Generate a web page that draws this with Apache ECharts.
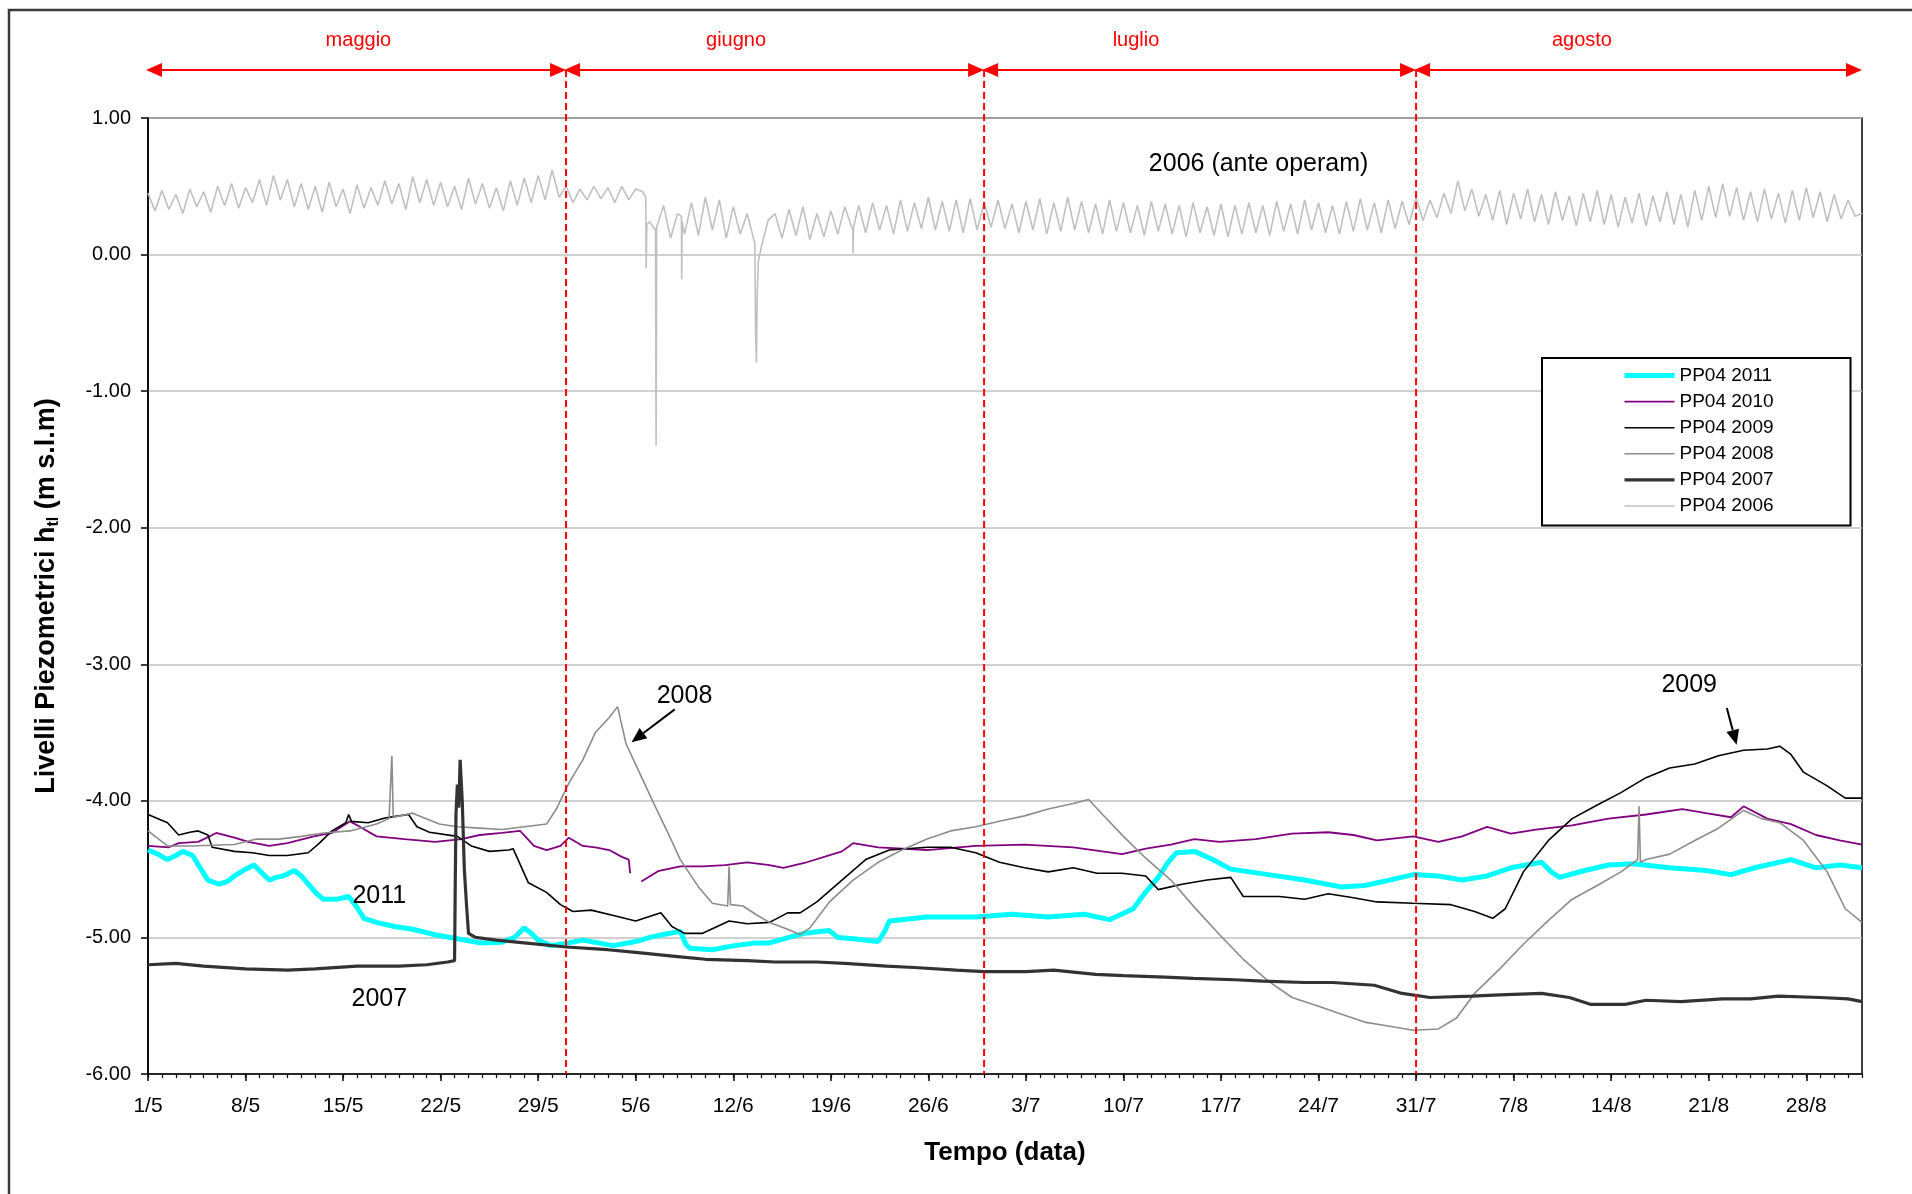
<!DOCTYPE html>
<html>
<head>
<meta charset="utf-8">
<script src="https://cdn.jsdelivr.net/npm/echarts@6/dist/echarts.min.js"></script>
<style>html,body{margin:0;padding:0;background:#fff;}#c{width:1912px;height:1194px;}</style>
</head>
<body>
<div id="c"></div>
<script>
// ---------- DATA ----------
const xTickLabels = ['1/5','8/5','15/5','22/5','29/5','5/6','12/6','19/6','26/6','3/7','10/7','17/7','24/7','31/7','7/8','14/8','21/8','28/8'];
const monthNames = ['maggio','giugno','luglio','agosto'];
const monthBounds = [0, 30, 60, 91, 123]; // day index (0 = 1/5)
const monthLabelDays = [15.1, 42.2, 70.9, 102.9];
const seriesNames = ['PP04 2011','PP04 2010','PP04 2009','PP04 2008','PP04 2007','PP04 2006'];

const s2011 = [[0,-4.36],[0.7,-4.39],[1.4,-4.43],[2.0,-4.40],[2.5,-4.37],[3.2,-4.40],[3.8,-4.50],[4.3,-4.58],[5.1,-4.61],[5.7,-4.59],[6.2,-4.55],[7.0,-4.50],[7.6,-4.47],[8.1,-4.52],[8.7,-4.58],[9.2,-4.56],[9.7,-4.55],[10.5,-4.51],[11.0,-4.55],[11.6,-4.62],[12.1,-4.68],[12.6,-4.72],[13.6,-4.72],[14.4,-4.70],[15.0,-4.78],[15.5,-4.86],[16.4,-4.89],[17.7,-4.92],[19,-4.94],[20.6,-4.98],[22.2,-5.01],[23.8,-5.04],[25.4,-5.035],[26.3,-5.00],[27.0,-4.93],[27.5,-4.97],[28.0,-5.02],[28.9,-5.06],[30.2,-5.04],[31.2,-5.02],[32.3,-5.04],[33.4,-5.06],[35.0,-5.03],[36.0,-5.00],[36.9,-4.98],[38.2,-4.955],[38.6,-5.05],[38.9,-5.08],[40.5,-5.09],[42.1,-5.06],[43.6,-5.04],[44.6,-5.04],[46.0,-5.00],[47.1,-4.97],[48.9,-4.95],[49.5,-5.00],[50.6,-5.01],[52.4,-5.03],[52.9,-4.95],[53.2,-4.88],[55.9,-4.85],[59.4,-4.85],[62,-4.83],[64.6,-4.85],[67.2,-4.83],[69,-4.87],[70.7,-4.79],[71.5,-4.68],[72.5,-4.56],[73.2,-4.45],[73.8,-4.38],[75.1,-4.37],[76.4,-4.43],[77.7,-4.50],[80.4,-4.54],[83,-4.58],[85.6,-4.63],[87.3,-4.62],[89.1,-4.58],[90.8,-4.54],[92.6,-4.55],[94.3,-4.58],[96.1,-4.55],[97.8,-4.49],[100,-4.45],[100.7,-4.52],[101.3,-4.56],[103.1,-4.51],[104.8,-4.47],[106.6,-4.46],[109.2,-4.49],[111.8,-4.51],[113.6,-4.54],[115.3,-4.49],[117.9,-4.43],[119.7,-4.49],[121.4,-4.47],[123,-4.49]];

const s2010 = [[0,-4.33],[1.5,-4.34],[2.2,-4.31],[3.6,-4.30],[4.9,-4.235],[6.2,-4.27],[7.2,-4.30],[8.7,-4.33],[10,-4.31],[11.9,-4.26],[13.2,-4.235],[14.5,-4.15],[15.2,-4.19],[16.4,-4.26],[18.4,-4.28],[20.6,-4.30],[22.5,-4.28],[23.8,-4.25],[25.4,-4.235],[26.7,-4.22],[27.7,-4.33],[28.6,-4.36],[29.6,-4.33],[30.2,-4.27],[31.2,-4.33],[32.1,-4.34],[33.1,-4.36],[34.0,-4.41],[34.5,-4.43],[34.6,-4.53],[35.0,'-'],[35.4,-4.59],[36.6,-4.515],[38.2,-4.48],[39.8,-4.48],[41.4,-4.47],[43.0,-4.45],[44.6,-4.47],[45.6,-4.49],[47.1,-4.455],[49.8,-4.37],[50.6,-4.31],[52.4,-4.34],[55.9,-4.36],[59.4,-4.33],[62.9,-4.32],[66.4,-4.34],[69.9,-4.39],[71.6,-4.35],[73.4,-4.32],[75.1,-4.28],[76.9,-4.30],[79.5,-4.28],[82.1,-4.24],[84.7,-4.23],[86.5,-4.25],[88.2,-4.29],[90.8,-4.26],[92.6,-4.30],[94.3,-4.26],[96.1,-4.19],[97.8,-4.24],[99.6,-4.21],[102.2,-4.18],[104.8,-4.13],[107.5,-4.10],[110.1,-4.06],[111.8,-4.09],[113.6,-4.12],[114.5,-4.04],[116.2,-4.13],[117.9,-4.17],[119.7,-4.25],[121.4,-4.29],[123,-4.32]];

const s2009 = [[0,-4.10],[1.4,-4.16],[2.2,-4.25],[3.0,-4.23],[3.6,-4.22],[4.3,-4.25],[4.6,-4.34],[6.2,-4.37],[7.5,-4.38],[8.7,-4.40],[10,-4.40],[11.5,-4.38],[12.3,-4.31],[13.2,-4.22],[14.2,-4.16],[14.4,-4.10],[14.6,-4.15],[15.8,-4.16],[17.0,-4.125],[18.0,-4.11],[18.7,-4.10],[19.3,-4.19],[20.2,-4.23],[22.2,-4.26],[23.2,-4.33],[24.5,-4.37],[25.9,-4.36],[26.2,-4.35],[27.3,-4.60],[28.6,-4.67],[29.6,-4.76],[30.5,-4.81],[31.8,-4.80],[33.4,-4.84],[35.0,-4.88],[36.8,-4.82],[37.6,-4.92],[38.5,-4.97],[39.8,-4.97],[41.7,-4.88],[43,-4.90],[44.6,-4.89],[45.9,-4.82],[46.8,-4.82],[48.0,-4.74],[49.8,-4.58],[51.5,-4.43],[53.2,-4.36],[55.9,-4.34],[57.6,-4.34],[59.4,-4.38],[61.1,-4.45],[62.9,-4.49],[64.6,-4.52],[66.4,-4.49],[68.1,-4.53],[69.9,-4.53],[71.6,-4.55],[72.5,-4.65],[74.2,-4.61],[76,-4.58],[77.7,-4.56],[78.6,-4.70],[81.2,-4.70],[83,-4.72],[84.7,-4.68],[86.5,-4.71],[88.2,-4.74],[90.8,-4.75],[93.5,-4.76],[95.2,-4.81],[96.5,-4.86],[97.4,-4.79],[98.7,-4.52],[100.5,-4.29],[102.2,-4.13],[104,-4.03],[105.7,-3.94],[107.5,-3.83],[109.2,-3.76],[111,-3.73],[112.7,-3.67],[114.5,-3.63],[116.2,-3.62],[117.1,-3.60],[117.9,-3.66],[118.8,-3.79],[120.5,-3.89],[121.8,-3.98],[123,-3.98]];

const s2008 = [[0,-4.22],[1.4,-4.33],[3,-4.33],[6.2,-4.32],[7.8,-4.28],[9.4,-4.28],[11,-4.26],[12.6,-4.235],[14.5,-4.22],[16.4,-4.17],[17.3,-4.13],[17.5,-3.67],[17.6,-4.12],[19,-4.09],[19.7,-4.12],[20.9,-4.17],[22.2,-4.19],[23.8,-4.20],[25.4,-4.21],[27,-4.19],[28.6,-4.17],[29.3,-4.06],[30.2,-3.87],[31.2,-3.70],[32.1,-3.50],[33.1,-3.39],[33.7,-3.31],[34.3,-3.58],[35.3,-3.80],[36.3,-4.02],[37.2,-4.21],[38.2,-4.43],[39.5,-4.63],[40.5,-4.75],[41.6,-4.77],[41.7,-4.48],[41.8,-4.76],[42.7,-4.77],[43.6,-4.83],[44.6,-4.89],[45.9,-4.94],[46.8,-4.98],[47.5,-4.93],[48.9,-4.74],[50.6,-4.58],[52.4,-4.45],[54.1,-4.36],[55.9,-4.28],[57.6,-4.22],[59.4,-4.19],[61.1,-4.15],[62.9,-4.11],[64.6,-4.06],[66.4,-4.02],[67.5,-3.99],[68.5,-4.10],[70.0,-4.26],[71.6,-4.42],[73.4,-4.58],[75.1,-4.78],[76.9,-4.98],[78.6,-5.16],[80.4,-5.32],[82.1,-5.44],[83.9,-5.50],[85.6,-5.56],[87.3,-5.62],[89.1,-5.65],[90.8,-5.68],[92.6,-5.67],[93.9,-5.59],[95.2,-5.41],[97,-5.23],[98.7,-5.05],[100.5,-4.875],[102.2,-4.72],[104,-4.62],[105.7,-4.52],[106.9,-4.43],[107.0,-4.04],[107.1,-4.45],[107.5,-4.43],[109.2,-4.39],[111,-4.29],[112.7,-4.20],[114.5,-4.07],[115.8,-4.13],[117.1,-4.16],[118.8,-4.29],[120.5,-4.52],[121.8,-4.79],[123,-4.89]];

const s2007 = [[0,-5.20],[2,-5.19],[4,-5.21],[7,-5.23],[10,-5.24],[12,-5.23],[15,-5.21],[18,-5.21],[20,-5.20],[21.5,-5.18],[22.0,-5.17],[22.05,-4.6],[22.1,-4.10],[22.2,-3.88],[22.3,-4.05],[22.4,-3.70],[22.55,-4.0],[22.7,-4.5],[22.85,-4.75],[23.0,-4.97],[23.5,-5.00],[25,-5.02],[27,-5.04],[30,-5.07],[33,-5.09],[35,-5.11],[38,-5.14],[40,-5.16],[43,-5.17],[45,-5.18],[48,-5.18],[50,-5.19],[53,-5.21],[55,-5.22],[58,-5.24],[60,-5.25],[63,-5.25],[65,-5.24],[68,-5.27],[70,-5.28],[73,-5.29],[75,-5.30],[78,-5.31],[80,-5.32],[83,-5.33],[85,-5.33],[88,-5.35],[90,-5.41],[92,-5.44],[95,-5.43],[97,-5.42],[100,-5.41],[102,-5.44],[103.5,-5.49],[106,-5.49],[107.5,-5.46],[110,-5.47],[113,-5.45],[115,-5.45],[117,-5.43],[120,-5.44],[122,-5.45],[123,-5.47]];

// 2006: readings every half day starting at 1/5
const s2006Half = [
0.45,0.32, 0.47,0.33, 0.44,0.30, 0.48,0.35, 0.46,0.31,
0.50,0.36, 0.52,0.34, 0.49,0.38, 0.55,0.36, 0.58,0.40,
0.55,0.35, 0.52,0.33, 0.50,0.31, 0.53,0.35, 0.48,0.30,
0.51,0.34, 0.49,0.36, 0.54,0.37, 0.52,0.33, 0.57,0.38,
0.55,0.36, 0.53,0.35, 0.50,0.33, 0.56,0.37, 0.52,0.34,
0.49,0.32, 0.54,0.36, 0.56,0.38, 0.58,0.40, 0.62,0.42,
0.50,0.38, 0.48,0.40, 0.50,0.41, 0.49,0.38, 0.50,0.40,
0.48,0.46, 0.24,0.20, 0.36,0.12, 0.30,0.15, 0.38,0.14,
0.42,0.18, 0.40,0.12, 0.35,0.15, 0.30,0.10, 0.05,0.25,
0.30,0.12, 0.33,0.14, 0.35,0.11, 0.30,0.13, 0.32,0.15,
0.35,0.20, 0.36,0.16, 0.38,0.18, 0.36,0.15, 0.40,0.17,
0.38,0.19, 0.42,0.18, 0.39,0.17, 0.40,0.16, 0.41,0.18,
0.38,0.20, 0.40,0.19, 0.37,0.16, 0.39,0.18, 0.41,0.15,
0.38,0.17, 0.42,0.18, 0.39,0.16, 0.37,0.15, 0.40,0.17,
0.38,0.16, 0.36,0.14, 0.39,0.17, 0.37,0.15, 0.36,0.13,
0.38,0.16, 0.35,0.14, 0.37,0.13, 0.36,0.15, 0.38,0.16,
0.36,0.14, 0.39,0.17, 0.37,0.15, 0.40,0.18, 0.38,0.16,
0.36,0.15, 0.39,0.17, 0.41,0.18, 0.38,0.16, 0.40,0.19,
0.39,0.22, 0.42,0.25, 0.40,0.27, 0.45,0.30, 0.54,0.32,
0.48,0.28, 0.44,0.25, 0.47,0.22, 0.45,0.26, 0.48,0.24,
0.44,0.22, 0.46,0.25, 0.43,0.21, 0.45,0.24, 0.47,0.22,
0.44,0.20, 0.42,0.23, 0.45,0.21, 0.43,0.24, 0.46,0.22,
0.44,0.20, 0.47,0.25, 0.50,0.27, 0.52,0.28, 0.49,0.25,
0.46,0.24, 0.48,0.26, 0.45,0.23, 0.47,0.25, 0.49,0.27,
0.46,0.24, 0.44,0.26, 0.40,0.28, 0.30
];
// 2006: short drops between the regular readings
const s2006Drops = [[35.72,0.42],[35.75,-0.10],[35.8,0.22],[36.42,0.18],[36.46,-1.40],[36.49,-0.42],[38.28,0.28],[38.3,-0.18],[38.33,0.24],[43.55,0.08],[43.6,-0.57],[43.66,-0.79],[43.72,-0.30],[43.8,-0.05],[50.58,0.18],[50.6,0.01],[50.63,0.2]];

const annotations = [
  {text:'2006 (ante operam)', d:79.7, v:0.665},
  {text:'2011', d:16.6, v:-4.70},
  {text:'2007', d:16.6, v:-5.45},
  {text:'2008', d:38.5, v:-3.23},
  {text:'2009', d:110.6, v:-3.15}
];
const pointerArrows = [
  {from:[37.8,-3.33], to:[34.7,-3.57]},
  {from:[113.3,-3.32], to:[114.0,-3.59]}
];

// ---------- CHART ----------
const FONT = 'Liberation Sans, Arial, sans-serif';
const s2006 = s2006Half.map((v,i)=>[i*0.5, v]).concat(s2006Drops).sort((a,b)=>a[0]-b[0]);

const chart = echarts.init(document.getElementById('c'), null, {renderer:'canvas'});

function mkSeries(name, data, color, width){
  return {name, type:'line', data, xAxisIndex:0, yAxisIndex:0, symbol:'none', showSymbol:false,
    sampling:null, connectNulls:false, animation:false,
    lineStyle:{color, width}, itemStyle:{color}};
}

const option = {
  animation:false,
  backgroundColor:'#fff',
  grid:{left:148, top:118, width:1714, height:956, show:true, borderColor:'#000', borderWidth:1.5, backgroundColor:'transparent'},
  xAxis:[
    {type:'value', min:0, max:123, interval:1, position:'bottom',
      axisLine:{show:true, onZero:false, lineStyle:{color:'#000', width:1.5}},
      axisTick:{show:true, length:4, lineStyle:{color:'#000', width:1.2}},
      axisLabel:{show:false}, splitLine:{show:false}},
    {type:'value', min:0, max:123, interval:7, position:'bottom',
      axisLine:{show:false, onZero:false},
      axisTick:{show:true, length:7, lineStyle:{color:'#000', width:1.5}},
      axisLabel:{show:true, margin:22, fontSize:21, color:'#000', fontFamily:FONT, showMaxLabel:false,
        formatter:(v)=>{const i=Math.round(v/7); return (Math.abs(v-i*7)<1e-6 && xTickLabels[i]) ? xTickLabels[i] : '';}},
      splitLine:{show:false},
      name:'Tempo (data)', nameLocation:'middle', nameGap:66,
      nameTextStyle:{fontSize:26, fontWeight:'bold', color:'#000', fontFamily:FONT}}
  ],
  yAxis:{type:'value', min:-6, max:1, interval:1,
    axisLine:{show:true, lineStyle:{color:'#000', width:1.5}},
    axisTick:{show:true, length:7, lineStyle:{color:'#000', width:1.5}},
    axisLabel:{margin:17, fontSize:20, color:'#000', fontFamily:FONT, formatter:(v)=>v.toFixed(2)},
    splitLine:{show:true, lineStyle:{color:'#c0c0c0', width:1.5}},
    name:'{m|Livelli Piezometrici h}{s|tl}{m| (m s.l.m)}', nameLocation:'middle', nameGap:86,
    nameTextStyle:{fontFamily:FONT, color:'#000', rich:{
      m:{fontSize:27, fontWeight:'bold', fontFamily:FONT, color:'#000', lineHeight:30},
      s:{fontSize:16, fontWeight:'bold', fontFamily:FONT, color:'#000', lineHeight:14, verticalAlign:'bottom'}}}
  },
  legend:{show:true, orient:'vertical', left:1542, top:358, padding:[8,77,10,80],
    itemWidth:50, itemHeight:20, itemGap:7.1, backgroundColor:'#fff', borderColor:'#000', borderWidth:2, borderRadius:0,
    textStyle:{fontSize:19, color:'#000', fontFamily:FONT},
    itemStyle:{opacity:0}, lineStyle:{width:'inherit'},
    data:seriesNames.slice(), selectedMode:false},
  series:[
    mkSeries(seriesNames[0], s2011, '#00ffff', 5),
    mkSeries(seriesNames[1], s2010, '#800080', 1.8),
    mkSeries(seriesNames[2], s2009, '#000000', 1.6),
    mkSeries(seriesNames[3], s2008, '#8c8c8c', 1.6),
    mkSeries(seriesNames[4], s2007, '#333333', 3.2),
    mkSeries(seriesNames[5], s2006, '#c0c0c0', 1.6)
  ]
};
chart.setOption(option);

// ---------- OVERLAY (positions from the chart's own scales) ----------
function px(d, v){ return chart.convertToPixel({gridIndex:0}, [d, v]); }
const g = [];
g.push({type:'rect', shape:{x:9, y:10, width:2400, height:2400}, style:{fill:'none', stroke:'#3a3a3a', lineWidth:2.5}, z:1});
const yArrow = 70, yMonth = 40, yBottom = px(0,-6)[1];
for (let i=1;i<monthBounds.length-1;i++){
  const x = px(monthBounds[i],0)[0];
  g.push({type:'line', shape:{x1:x, y1:yArrow, x2:x, y2:yBottom}, style:{stroke:'#ff0000', lineWidth:2, lineDash:[7,4]}, z:100});
}
for (let i=0;i<monthNames.length;i++){
  const x1 = px(monthBounds[i],0)[0]-2, x2 = px(monthBounds[i+1],0)[0];
  g.push({type:'line', shape:{x1:x1+4, y1:yArrow, x2:x2-4, y2:yArrow}, style:{stroke:'#ff0000', lineWidth:2}, z:100});
  g.push({type:'polygon', shape:{points:[[x1,yArrow],[x1+16,yArrow-7],[x1+16,yArrow+7]]}, style:{fill:'#ff0000'}, z:100});
  g.push({type:'polygon', shape:{points:[[x2,yArrow],[x2-16,yArrow-7],[x2-16,yArrow+7]]}, style:{fill:'#ff0000'}, z:100});
  g.push({type:'text', x:px(monthLabelDays[i],0)[0], y:yMonth, style:{text:monthNames[i], fill:'#ff0000', font:'20px '+FONT, textAlign:'center', textVerticalAlign:'middle'}, z:100});
}
annotations.forEach(a=>{
  const p = px(a.d, a.v);
  g.push({type:'text', x:p[0], y:p[1], style:{text:a.text, fill:'#000', font:'25px '+FONT, textAlign:'center', textVerticalAlign:'middle'}, z:100});
});
pointerArrows.forEach(a=>{
  const p1 = px(a.from[0], a.from[1]), p2 = px(a.to[0], a.to[1]);
  const dx = p2[0]-p1[0], dy = p2[1]-p1[1], L = Math.hypot(dx,dy), ux = dx/L, uy = dy/L;
  const hl = 15, hw = 6.5;
  const bx = p2[0]-ux*hl, by = p2[1]-uy*hl;
  g.push({type:'line', shape:{x1:p1[0], y1:p1[1], x2:bx, y2:by}, style:{stroke:'#000', lineWidth:2}, z:100});
  g.push({type:'polygon', shape:{points:[[p2[0],p2[1]],[bx-uy*hw, by+ux*hw],[bx+uy*hw, by-ux*hw]]}, style:{fill:'#000'}, z:100});
});
chart.setOption({graphic:g});
</script>
</body>
</html>
